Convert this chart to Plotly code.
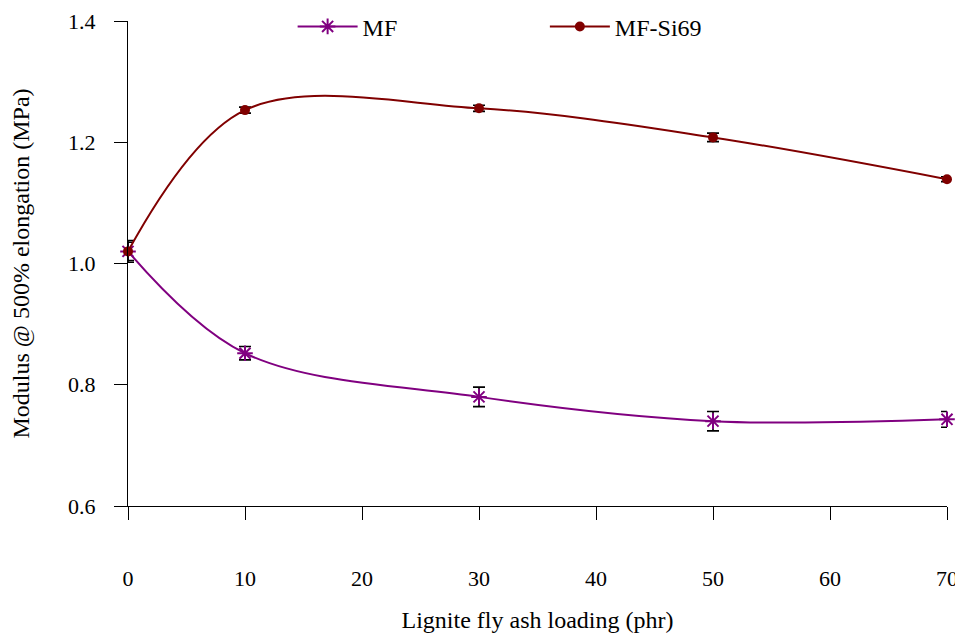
import plotly.graph_objects as go

loading = [0, 10, 30, 50, 70]
mf = [1.020, 0.852, 0.780, 0.740, 0.743]
mf_err = [0.018, 0.011, 0.016, 0.016, 0.013]
mf_si69 = [1.020, 1.253, 1.256, 1.208, 1.139]
mf_si69_err = [0.015, 0.005, 0.005, 0.007, 0.004]
x_ticks = [0, 10, 20, 30, 40, 50, 60, 70]
y_ticks = [0.6, 0.8, 1.0, 1.2, 1.4]

FONT = "Liberation Serif, Times New Roman, serif"
PURPLE = "#800080"
MAROON = "#800000"

fig = go.Figure()
fig.add_trace(go.Scatter(
    x=loading, y=mf, name="MF", mode="lines+markers",
    line=dict(color=PURPLE, width=2, shape="spline", smoothing=1),
    marker=dict(symbol="asterisk-open", size=13, color=PURPLE,
                line=dict(color=PURPLE, width=2)),
    error_y=dict(type="data", array=mf_err, visible=True, color="black",
                 thickness=1.6, width=6),
    cliponaxis=False, legend="legend", showlegend=True,
))
fig.add_trace(go.Scatter(
    x=loading, y=mf_si69, name="MF-Si69", mode="lines+markers",
    line=dict(color=MAROON, width=2, shape="spline", smoothing=1),
    marker=dict(symbol="circle", size=10, color=MAROON),
    error_y=dict(type="data", array=mf_si69_err, visible=True, color="black",
                 thickness=1.6, width=6),
    cliponaxis=False, legend="legend2", showlegend=True,
))

fig.update_layout(
    width=955, height=625,
    margin=dict(l=120, r=16, t=13, b=127, autoexpand=False),
    paper_bgcolor="white", plot_bgcolor="white",
    font=dict(family=FONT, size=22, color="black"),
    showlegend=True,
    legend=dict(x=0.201, y=0.988, xanchor="left", yanchor="middle",
                bgcolor="rgba(0,0,0,0)", font=dict(size=24, family=FONT),
                itemwidth=60),
    legend2=dict(x=0.509, y=0.988, xanchor="left", yanchor="middle",
                 bgcolor="rgba(0,0,0,0)", font=dict(size=24, family=FONT),
                 itemwidth=60),
    xaxis=dict(
        range=[0, 70], tickvals=x_ticks, ticktext=[str(v) for v in x_ticks],
        showgrid=False, zeroline=False, showline=True, linecolor="black",
        linewidth=1.3, ticks="outside", ticklen=13, tickcolor="black",
        tickwidth=1.3, ticklabelstandoff=39, automargin=False,
        tickfont=dict(size=22, family=FONT),
        title=dict(text="Lignite fly ash loading (phr)",
                   font=dict(size=24, family=FONT), standoff=32),
    ),
    yaxis=dict(
        range=[0.6, 1.4], tickvals=y_ticks,
        ticktext=["%.1f" % v for v in y_ticks],
        showgrid=False, zeroline=False, showline=True, linecolor="black",
        linewidth=1.3, ticks="outside", ticklen=13, tickcolor="black",
        tickwidth=1.3, ticklabelstandoff=14, automargin=False,
        tickfont=dict(size=22, family=FONT),
        title=dict(text="Modulus @ 500% elongation (MPa)",
                   font=dict(size=24, family=FONT), standoff=38),
    ),
)

fig.write_html("out.html")
